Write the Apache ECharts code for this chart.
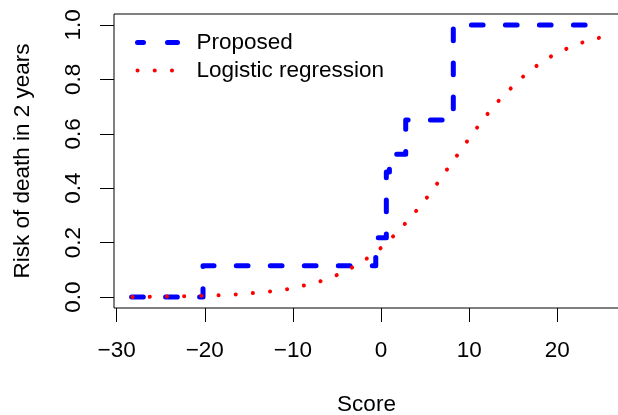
<!DOCTYPE html>
<html>
<head>
<meta charset="utf-8">
<script src="https://cdn.jsdelivr.net/npm/echarts@6/dist/echarts.min.js"></script>
<style>
html,body{margin:0;padding:0;background:#fff;}
#chart{width:618px;height:415px;}
</style>
</head>
<body>
<div id="chart"></div>
<script>
// ---- data ----
const xTicks = [-30, -20, -10, 0, 10, 20];
const yTicks = [0, 0.2, 0.4, 0.6, 0.8, 1.0];

const seriesNames = ['Proposed', 'Logistic regression'];

// Proposed: step function, value holds from x until the next x
const proposedX = [-28.3, -20.2, -0.6, 0.6, 0.95, 2.8, 8.2, 24.8];
const proposedY = [0.0, 0.115, 0.218, 0.46, 0.525, 0.651, 1.0, 1.0];

// Logistic regression curve
const logisticX = [-28.2, -26.2, -24.2, -22.3, -20.35, -18.4, -16.4, -14.5, -12.5, -10.6,
  -8.7, -6.8, -5.0, -3.2, -1.6, 0.0, 1.4, 2.76, 4.05, 5.26, 6.39, 7.53, 8.66, 9.8,
  10.93, 12.11, 13.39, 14.76, 16.15, 17.67, 19.33, 21.08, 22.9, 24.78];
const logisticY = [0.000, 0.001, 0.002, 0.003, 0.005, 0.007, 0.010, 0.015, 0.021, 0.029,
  0.043, 0.059, 0.081, 0.110, 0.142, 0.181, 0.224, 0.271, 0.319, 0.368, 0.418, 0.471, 0.522, 0.574,
  0.624, 0.674, 0.723, 0.768, 0.811, 0.850, 0.885, 0.913, 0.936, 0.953];

const xTitle = 'Score';
const yTitle = 'Risk of death in 2 years';

// ---- chart ----
const FONT = 'Liberation Sans, Arial, Helvetica, sans-serif';
const FS = 22.5;
const BLUE = '#0000ff', RED = '#ff0000';
const zip = (a, b) => a.map((v, i) => [v, b[i]]);
const fmtX = v => (v < 0 ? '\u2212' + Math.abs(v) : String(v));

const chart = echarts.init(document.getElementById('chart'), null, {renderer: 'canvas'});
const option = {
  animation: false,
  backgroundColor: '#ffffff',
  textStyle: {fontFamily: FONT},
  grid: {
    left: 114, top: 14, width: 505, height: 294,
    show: true, borderColor: '#000', borderWidth: 1, backgroundColor: 'transparent',
    containLabel: false, outerBoundsMode: 'none'
  },
  legend: {
    orient: 'vertical',
    left: 135, top: 31, padding: 0,
    itemWidth: 40, itemHeight: 22, itemGap: 5,
    data: [
      {name: seriesNames[0],
       lineStyle: {color: BLUE, width: 5, type: [6, 24, 10, 10], cap: 'round'}},
      {name: seriesNames[1],
       lineStyle: {color: RED, width: 4, type: [0.1, 17.1], cap: 'round'}}
    ],
    textStyle: {fontSize: FS, color: '#000', fontFamily: FONT, padding: [0, 0, 0, 14]},
    itemStyle: {opacity: 0, color: 'transparent', borderWidth: 0},
    selectedMode: false
  },
  xAxis: {
    type: 'value', min: -30.3, max: 27.0,
    axisLine: {show: false, onZero: false},
    splitLine: {show: false},
    axisTick: {show: true, inside: false, length: 14, customValues: xTicks,
      lineStyle: {color: '#000', width: 1}},
    axisLabel: {show: true, customValues: xTicks, formatter: fmtX, fontSize: FS,
      color: '#000', fontFamily: FONT, margin: 31},
    name: xTitle, nameLocation: 'middle', nameGap: 85,
    nameTextStyle: {fontSize: FS, color: '#000', fontFamily: FONT}
  },
  yAxis: {
    type: 'value', min: -0.04, max: 1.04,
    axisLine: {show: false, onZero: false},
    splitLine: {show: false},
    axisTick: {show: true, inside: false, length: 14, customValues: yTicks,
      lineStyle: {color: '#000', width: 1}},
    axisLabel: {show: true, customValues: yTicks, formatter: v => v.toFixed(1),
      rotate: 90, fontSize: FS, color: '#000', fontFamily: FONT, margin: 29},
    name: yTitle, nameLocation: 'middle', nameGap: 80,
    nameTextStyle: {fontSize: FS, color: '#000', fontFamily: FONT}
  },
  series: [
    {
      name: seriesNames[0], type: 'line', step: 'end',
      data: zip(proposedX, proposedY),
      symbol: 'none', clip: true,
      lineStyle: {color: BLUE, width: 5, type: [11.7, 22.3], cap: 'round', join: 'round'},
      itemStyle: {color: BLUE},
      z: 3
    },
    {
      name: seriesNames[1], type: 'line',
      data: zip(logisticX, logisticY),
      symbol: 'none', clip: true, smooth: false,
      lineStyle: {color: RED, width: 4, type: [0.1, 17.2], cap: 'round'},
      itemStyle: {color: RED},
      z: 4
    }
  ]
};
chart.setOption(option);

// fit the dot period so that the dots span the curve from end to end (33 gaps, as in the reference)
const pix = zip(logisticX, logisticY).map(p => chart.convertToPixel({gridIndex: 0}, p));
let arc = 0;
for (let i = 1; i < pix.length; i++) {
  arc += Math.hypot(pix[i][0] - pix[i - 1][0], pix[i][1] - pix[i - 1][1]);
}
const period = (arc - 0.6) / 33;
chart.setOption({series: [{}, {lineStyle: {type: [0.1, period - 0.1]}}]});
</script>
</body>
</html>
